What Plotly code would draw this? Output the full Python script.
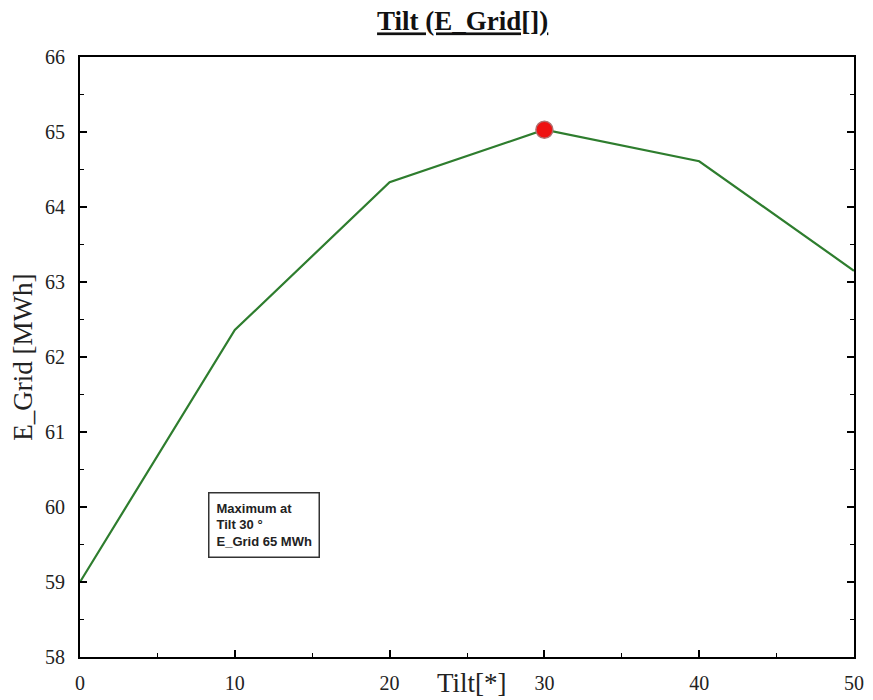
import plotly.graph_objects as go

# Tilt angle sweep and resulting grid energy
tilt_deg = [0, 10, 20, 30, 40, 50]
e_grid_mwh = [59.0, 62.36, 64.33, 65.03, 64.61, 63.15]

# Optimum point
opt_tilt = [30]
opt_e_grid = [65.03]

x_ticks = [0, 10, 20, 30, 40, 50]
y_ticks = [58, 59, 60, 61, 62, 63, 64, 65, 66]

serif = "Liberation Serif, Times New Roman, serif"
sans = "Liberation Sans, Arial, sans-serif"

fig = go.Figure()
fig.add_trace(go.Scatter(
    x=tilt_deg, y=e_grid_mwh, mode="lines",
    line=dict(color="#2e7d2e", width=2.2),
    showlegend=False, hoverinfo="x+y",
))
fig.add_trace(go.Scatter(
    x=opt_tilt, y=opt_e_grid, mode="markers",
    marker=dict(color="#ee1111", size=17, line=dict(color="#b07070", width=1.5)),
    showlegend=False,
))

axis_common = dict(
    showgrid=False, zeroline=False, showline=True, linecolor="black", linewidth=2,
    ticks="inside", ticklen=7, tickwidth=1.5, tickcolor="black",
    tickfont=dict(family=serif, size=20, color="#222222"),
    minor=dict(ticks="inside", ticklen=4, tickcolor="black", tickwidth=1),
    automargin=False,
)

fig.update_xaxes(
    range=[0, 50], tickvals=x_ticks, mirror=True,
    minor_dtick=5, ticklabelstandoff=7, **axis_common,
)
fig.update_yaxes(
    range=[58, 66], tickvals=y_ticks, mirror="ticks",
    minor_dtick=0.5, ticklabelstandoff=9, **axis_common,
)

fig.add_annotation(
    x=25.3, xref="x", y=-0.043, yref="paper", yanchor="middle", xanchor="center",
    text="Tilt[*]", showarrow=False,
    font=dict(family=serif, size=27, color="#222222"),
)
fig.add_annotation(
    x=-0.074, xref="paper", y=0.5, yref="paper", textangle=-90,
    xanchor="center", yanchor="middle",
    text="E_Grid [MWh]", showarrow=False,
    font=dict(family=serif, size=27, color="#222222"),
)
fig.add_annotation(
    x=8.27, xref="x", y=60.2, yref="y", xanchor="left", yanchor="top",
    text="<b>Maximum at<br>Tilt 30 °<br>E_Grid 65 MWh</b>",
    align="left", showarrow=False,
    font=dict(family=sans, size=13, color="#222222"),
    bordercolor="#333333", borderwidth=1.5, borderpad=7, bgcolor="white",
)

fig.update_layout(
    width=873, height=700,
    margin=dict(l=80, r=19, t=57, b=43, autoexpand=False),
    paper_bgcolor="white", plot_bgcolor="white",
    title=dict(
        text="<b><u>Tilt (E_Grid[])</u></b>",
        x=0.53, xanchor="center", y=0.97, yanchor="middle",
        font=dict(family=serif, size=27, color="#111111"),
    ),
)

fig.write_html("out.html")
